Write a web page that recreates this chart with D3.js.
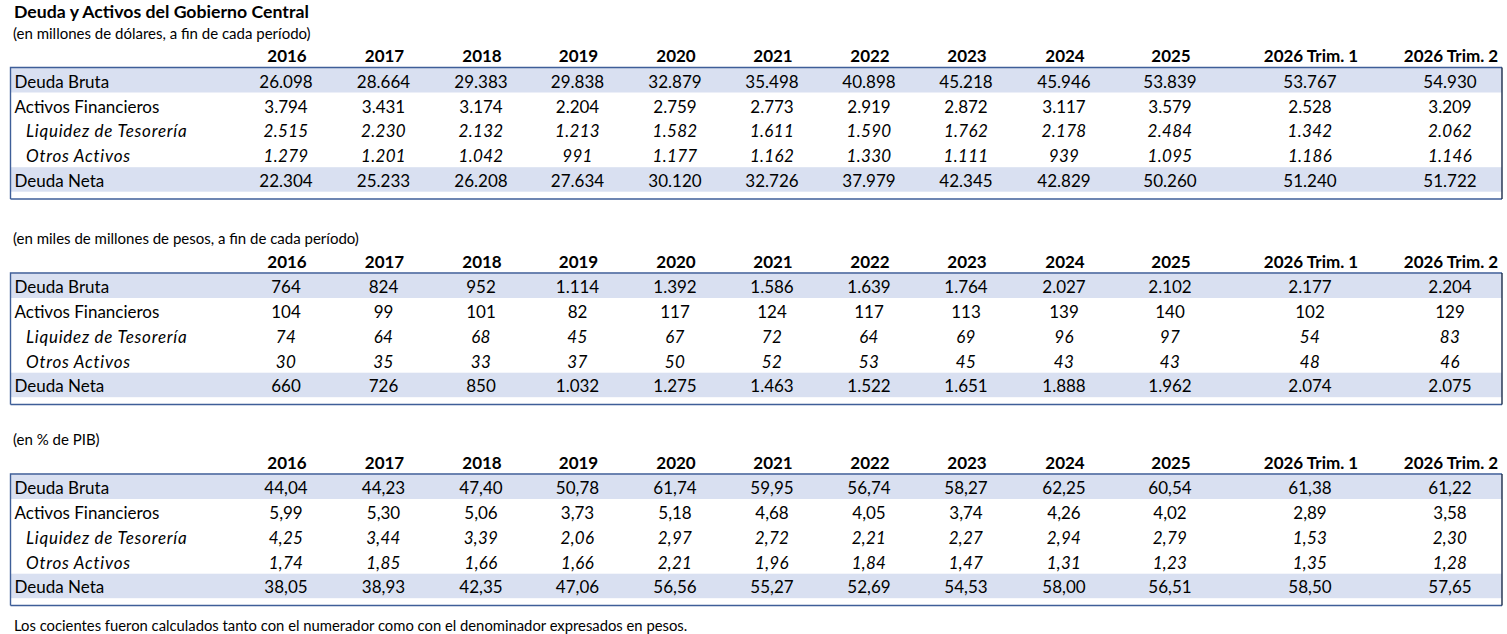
<!DOCTYPE html>
<html lang="es">
  <head>
    <meta charset="UTF-8" />
    <title>Deuda y Activos del Gobierno Central</title>
    <script src="https://cdn.jsdelivr.net/npm/d3@7"></script>
    <style>
      body { margin: 0; background: #fff; }
      svg { display: block; font-family: Lato, "Open Sans", sans-serif; color: #000; }
      .title { font-size: 17.7px; font-weight: 700; }
      .sub { font-size: 15px; }
      .head { font-size: 17px; font-weight: 700; }
      .cell { font-size: 17px; }
      .it { font-style: italic; }
      .lab.it { letter-spacing: 0.75px; }
      .val.it { letter-spacing: 0.3px; }
      .note { font-size: 14.8px; }
    </style>
  </head>
  <body>
    <div id="chart"></div>
    <script>
      // column headers and row labels
      var periods = ["2016", "2017", "2018", "2019", "2020", "2021", "2022", "2023", "2024", "2025", "2026 Trim. 1", "2026 Trim. 2"];
      var rowLabels = ["Deuda Bruta", "Activos Financieros", "Liquidez de Tesorería", "Otros Activos", "Deuda Neta"];
      var italicRows = ["Liquidez de Tesorería", "Otros Activos"];
      var shadedRows = ["Deuda Bruta", "Deuda Neta"];

      // millones de dólares
      var usdDeudaBruta = [26098, 28664, 29383, 29838, 32879, 35498, 40898, 45218, 45946, 53839, 53767, 54930];
      var usdActivos = [3794, 3431, 3174, 2204, 2759, 2773, 2919, 2872, 3117, 3579, 2528, 3209];
      var usdLiquidez = [2515, 2230, 2132, 1213, 1582, 1611, 1590, 1762, 2178, 2484, 1342, 2062];
      var usdOtros = [1279, 1201, 1042, 991, 1177, 1162, 1330, 1111, 939, 1095, 1186, 1146];
      var usdDeudaNeta = [22304, 25233, 26208, 27634, 30120, 32726, 37979, 42345, 42829, 50260, 51240, 51722];

      // miles de millones de pesos
      var arsDeudaBruta = [764, 824, 952, 1114, 1392, 1586, 1639, 1764, 2027, 2102, 2177, 2204];
      var arsActivos = [104, 99, 101, 82, 117, 124, 117, 113, 139, 140, 102, 129];
      var arsLiquidez = [74, 64, 68, 45, 67, 72, 64, 69, 96, 97, 54, 83];
      var arsOtros = [30, 35, 33, 37, 50, 52, 53, 45, 43, 43, 48, 46];
      var arsDeudaNeta = [660, 726, 850, 1032, 1275, 1463, 1522, 1651, 1888, 1962, 2074, 2075];

      // % de PIB
      var pibDeudaBruta = [44.04, 44.23, 47.40, 50.78, 61.74, 59.95, 56.74, 58.27, 62.25, 60.54, 61.38, 61.22];
      var pibActivos = [5.99, 5.30, 5.06, 3.73, 5.18, 4.68, 4.05, 3.74, 4.26, 4.02, 2.89, 3.58];
      var pibLiquidez = [4.25, 3.44, 3.39, 2.06, 2.97, 2.72, 2.21, 2.27, 2.94, 2.79, 1.53, 2.30];
      var pibOtros = [1.74, 1.85, 1.66, 1.66, 2.21, 1.96, 1.84, 1.47, 1.31, 1.23, 1.35, 1.28];
      var pibDeudaNeta = [38.05, 38.93, 42.35, 47.06, 56.56, 55.27, 52.69, 54.53, 58.00, 56.51, 58.50, 57.65];

      var titleText = "Deuda y Activos del Gobierno Central";
      var noteText = "Los cocientes fueron calculados tanto con el numerador como con el denominador expresados en pesos.";

      var es = d3.formatLocale({ decimal: ",", thousands: ".", grouping: [3], currency: ["$", ""] });

      var tables = [
        { sub: "(en millones de dólares, a fin de cada período)", fmt: es.format(",.0f"),
          rows: [usdDeudaBruta, usdActivos, usdLiquidez, usdOtros, usdDeudaNeta] },
        { sub: "(en miles de millones de pesos, a fin de cada período)", fmt: es.format(",.0f"),
          rows: [arsDeudaBruta, arsActivos, arsLiquidez, arsOtros, arsDeudaNeta] },
        { sub: "(en % de PIB)", fmt: es.format(",.2f"),
          rows: [pibDeudaBruta, pibActivos, pibLiquidez, pibOtros, pibDeudaNeta] }
      ];

      var width = 1507, height = 634;
      var boxLeft = 10.5, boxRight = 1502;
      var boxTops = [67.5, 273, 474];

      var x = d3.scaleOrdinal()
        .domain(periods)
        .range([286, 383.5, 481, 577.5, 675, 772, 869, 966, 1064, 1170, 1310, 1450]);
      var y = d3.scaleBand().domain(rowLabels).range([0.5, 124.5]);

      var svg = d3.select("#chart").append("svg")
        .attr("width", width).attr("height", height);
      svg.append("rect").attr("width", width).attr("height", height).attr("fill", "#fff");

      svg.append("text").attr("class", "title")
        .attr("x", 14).attr("y", 17.5).text(titleText);

      tables.forEach(function (t, ti) {
        var g = svg.append("g").attr("transform", "translate(0," + boxTops[ti] + ")");

        g.append("text").attr("class", "sub")
          .attr("x", 13).attr("y", -29).text(t.sub);

        g.selectAll("text.head").data(periods).join("text")
          .attr("class", "head")
          .attr("x", function (d) { return x(d) + 1; })
          .attr("y", -5.5)
          .attr("text-anchor", "middle")
          .text(function (d) { return d; });

        g.selectAll("rect.band").data(shadedRows).join("rect")
          .attr("class", "band")
          .attr("x", boxLeft).attr("width", boxRight - boxLeft)
          .attr("y", function (d) { return y(d); })
          .attr("height", y.bandwidth() - 0.3)
          .attr("fill", "#d9e0f1");

        // box border
        g.append("path")
          .attr("d", "M" + boxLeft + ",131.5V0H" + boxRight)
          .attr("fill", "none").attr("stroke", "#3e5e98").attr("stroke-width", 1.4);
        g.append("path")
          .attr("d", "M" + boxLeft + ",131.5H" + boxRight)
          .attr("fill", "none").attr("stroke", "#3e5e98").attr("stroke-width", 1.4);
        g.append("path")
          .attr("d", "M" + boxRight + ",0V131.5")
          .attr("fill", "none").attr("stroke", "#1d2b4a").attr("stroke-width", 1.4);

        var rows = g.selectAll("g.row").data(rowLabels).join("g")
          .attr("class", "row")
          .attr("transform", function (d) { return "translate(0," + (y(d) + y.bandwidth() / 2 + 7.3) + ")"; });

        rows.append("text")
          .attr("class", function (d) { return italicRows.includes(d) ? "lab cell it" : "lab cell"; })
          .attr("x", function (d) { return italicRows.includes(d) ? 26 : 14.5; })
          .text(function (d) { return d; });

        rows.each(function (label, ri) {
          var vals = t.rows[ri];
          d3.select(this).selectAll("text.val").data(periods).join("text")
            .attr("class", italicRows.includes(label) ? "val cell it" : "val cell")
            .attr("x", function (d) { return x(d); })
            .attr("text-anchor", "middle")
            .text(function (d, i) { return t.fmt(vals[i]); });
        });
      });

      svg.append("text").attr("class", "note")
        .attr("x", 14).attr("y", 630.5).text(noteText);
    </script>
  </body>
</html>
